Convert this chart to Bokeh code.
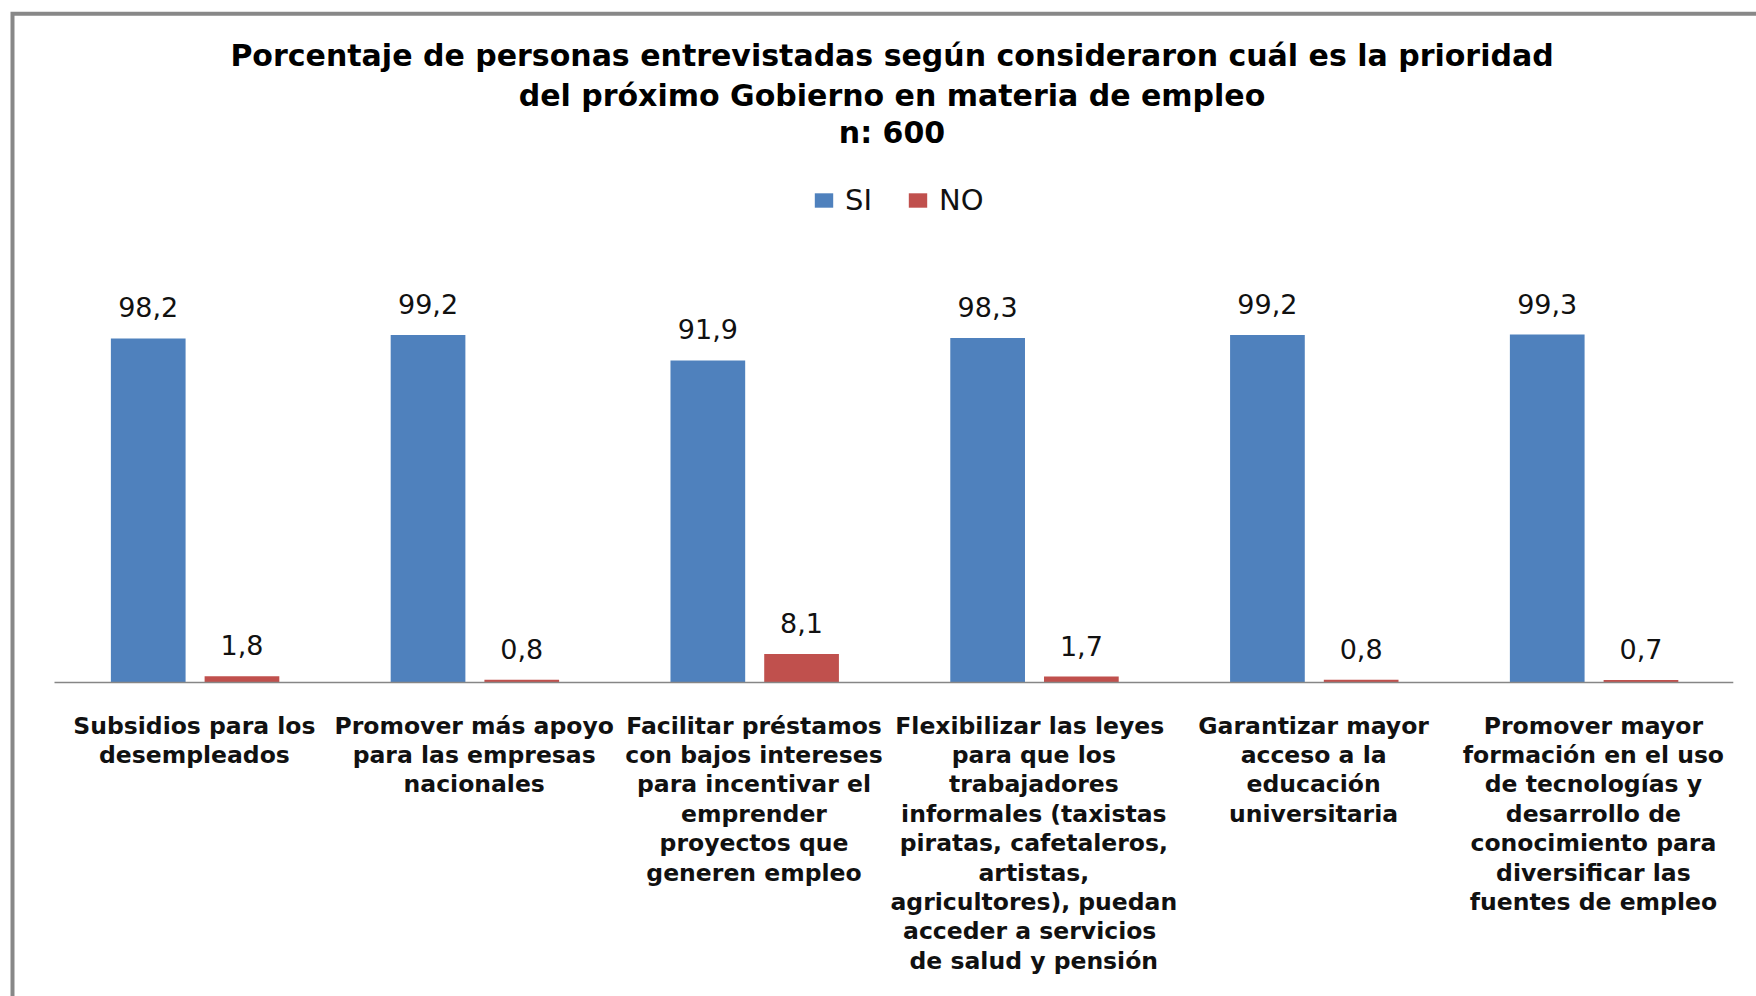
from bokeh.plotting import figure
from bokeh.models import Range1d, ColumnDataSource, Legend, LegendItem
from bokeh.core.properties import value
from bokeh.embed import file_html
from bokeh.resources import INLINE
import numpy as np

# ---------------- data ----------------
categories = [
    "Subsidios para los\ndesempleados",
    "Promover más apoyo\npara las empresas\nnacionales",
    "Facilitar préstamos\ncon bajos intereses\npara incentivar el\nemprender\nproyectos que\ngeneren empleo",
    "Flexibilizar  las leyes\npara que los\ntrabajadores\ninformales (taxistas\npiratas, cafetaleros,\nartistas,\nagricultores), puedan\nacceder a  servicios\nde salud y pensión",
    "Garantizar mayor\nacceso a la\neducación\nuniversitaria",
    "Promover mayor\nformación en el uso\nde tecnologías y\ndesarrollo de\nconocimiento para\ndiversificar las\nfuentes de empleo",
]
si_values = [98.2, 99.2, 91.9, 98.3, 99.2, 99.3]
no_values = [1.8, 0.8, 8.1, 1.7, 0.8, 0.7]
series_names = ["SI", "NO"]
title_lines = [
    "Porcentaje de personas entrevistadas según consideraron cuál es la prioridad",
    "del próximo Gobierno en materia de empleo",
    "n: 600",
]

# ---------------- layout (pixels) ----------------
W, H = 1756, 996
CAT0_PX = 193.9      # pixel x of first category centre
CAT_PX = 279.8       # pixels per category
BASE_PY = 682.0      # pixel y of value 0
UNIT_PY = 3.504      # pixels per percentage point

def px_x(px):
    return (px - CAT0_PX) / CAT_PX

def px_y(py):
    return (BASE_PY - py) / UNIT_PY

BLUE = "#4F81BD"
RED = "#C0504D"
FONT = value("DejaVu Sans")

fmt = lambda v: f"{v:.1f}".replace(".", ",")
idx = np.arange(len(categories))
src = ColumnDataSource(dict(
    x_si=idx - 0.165, x_no=idx + 0.17,
    si=si_values, no=no_values,
    si_lbl=[fmt(v) for v in si_values], no_lbl=[fmt(v) for v in no_values],
    cx=idx, cy=[0] * len(categories), cat=categories,
))

p = figure(width=W, height=H, output_backend="svg", toolbar_location=None,
           x_range=Range1d(px_x(0), px_x(W)), y_range=Range1d(px_y(H), px_y(0)),
           x_axis_location=None, y_axis_location=None, min_border=0,
           outline_line_color=None, background_fill_color="white",
           border_fill_color="white")
p.grid.visible = False

# outer frame of the original picture
p.line(x=[px_x(W + 10), px_x(12), px_x(12)], y=[px_y(13.3), px_y(13.3), px_y(H + 10)],
       line_color="#888888", line_width=4, line_join="miter")

bar_w = 0.267
r_si = p.vbar(x="x_si", top="si", width=bar_w, bottom=0, source=src,
              fill_color=BLUE, line_color=None)
r_no = p.vbar(x="x_no", top="no", width=bar_w, bottom=0, source=src,
              fill_color=RED, line_color=None)

# category baseline
p.segment(x0=[-0.5], x1=[len(categories) - 0.5], y0=[0], y1=[0],
          line_color="#868686", line_width=1.5)

# value labels
for xf, lf, yf in (("x_si", "si_lbl", "si"), ("x_no", "no_lbl", "no")):
    p.text(x=xf, y=yf, text=lf, source=src, text_align="center",
           text_baseline="alphabetic", y_offset=-31, text_font=FONT,
           text_font_size="27px", text_color="#111111")

# category labels
p.text(x="cx", y="cy", text="cat", source=src, text_align="center",
       text_baseline="top", y_offset=29, text_font=FONT, text_font_style="bold",
       text_font_size="23.5px", text_line_height=1.05, text_color="#111111")

# title
title_px = [55.3, 95.2, 132.3]
p.text(x=[px_x(891.5)] * 3, y=[px_y(v) for v in title_px], text=title_lines,
       text_align="center", text_baseline="alphabetic", text_font=FONT,
       text_font_style="bold", text_font_size="30px", text_color="#000000")

legend = Legend(items=[LegendItem(label=series_names[0], renderers=[r_si]),
                       LegendItem(label=series_names[1], renderers=[r_no])],
                orientation="horizontal", location=(812, 779),
                glyph_width=23, glyph_height=18, label_standoff=10, spacing=34,
                padding=0, margin=0, border_line_color=None,
                background_fill_alpha=0, label_text_font="DejaVu Sans",
                label_text_font_size="29px", label_text_color="#111111")
p.add_layout(legend)

open("out.html", "w").write(file_html(p, INLINE))
